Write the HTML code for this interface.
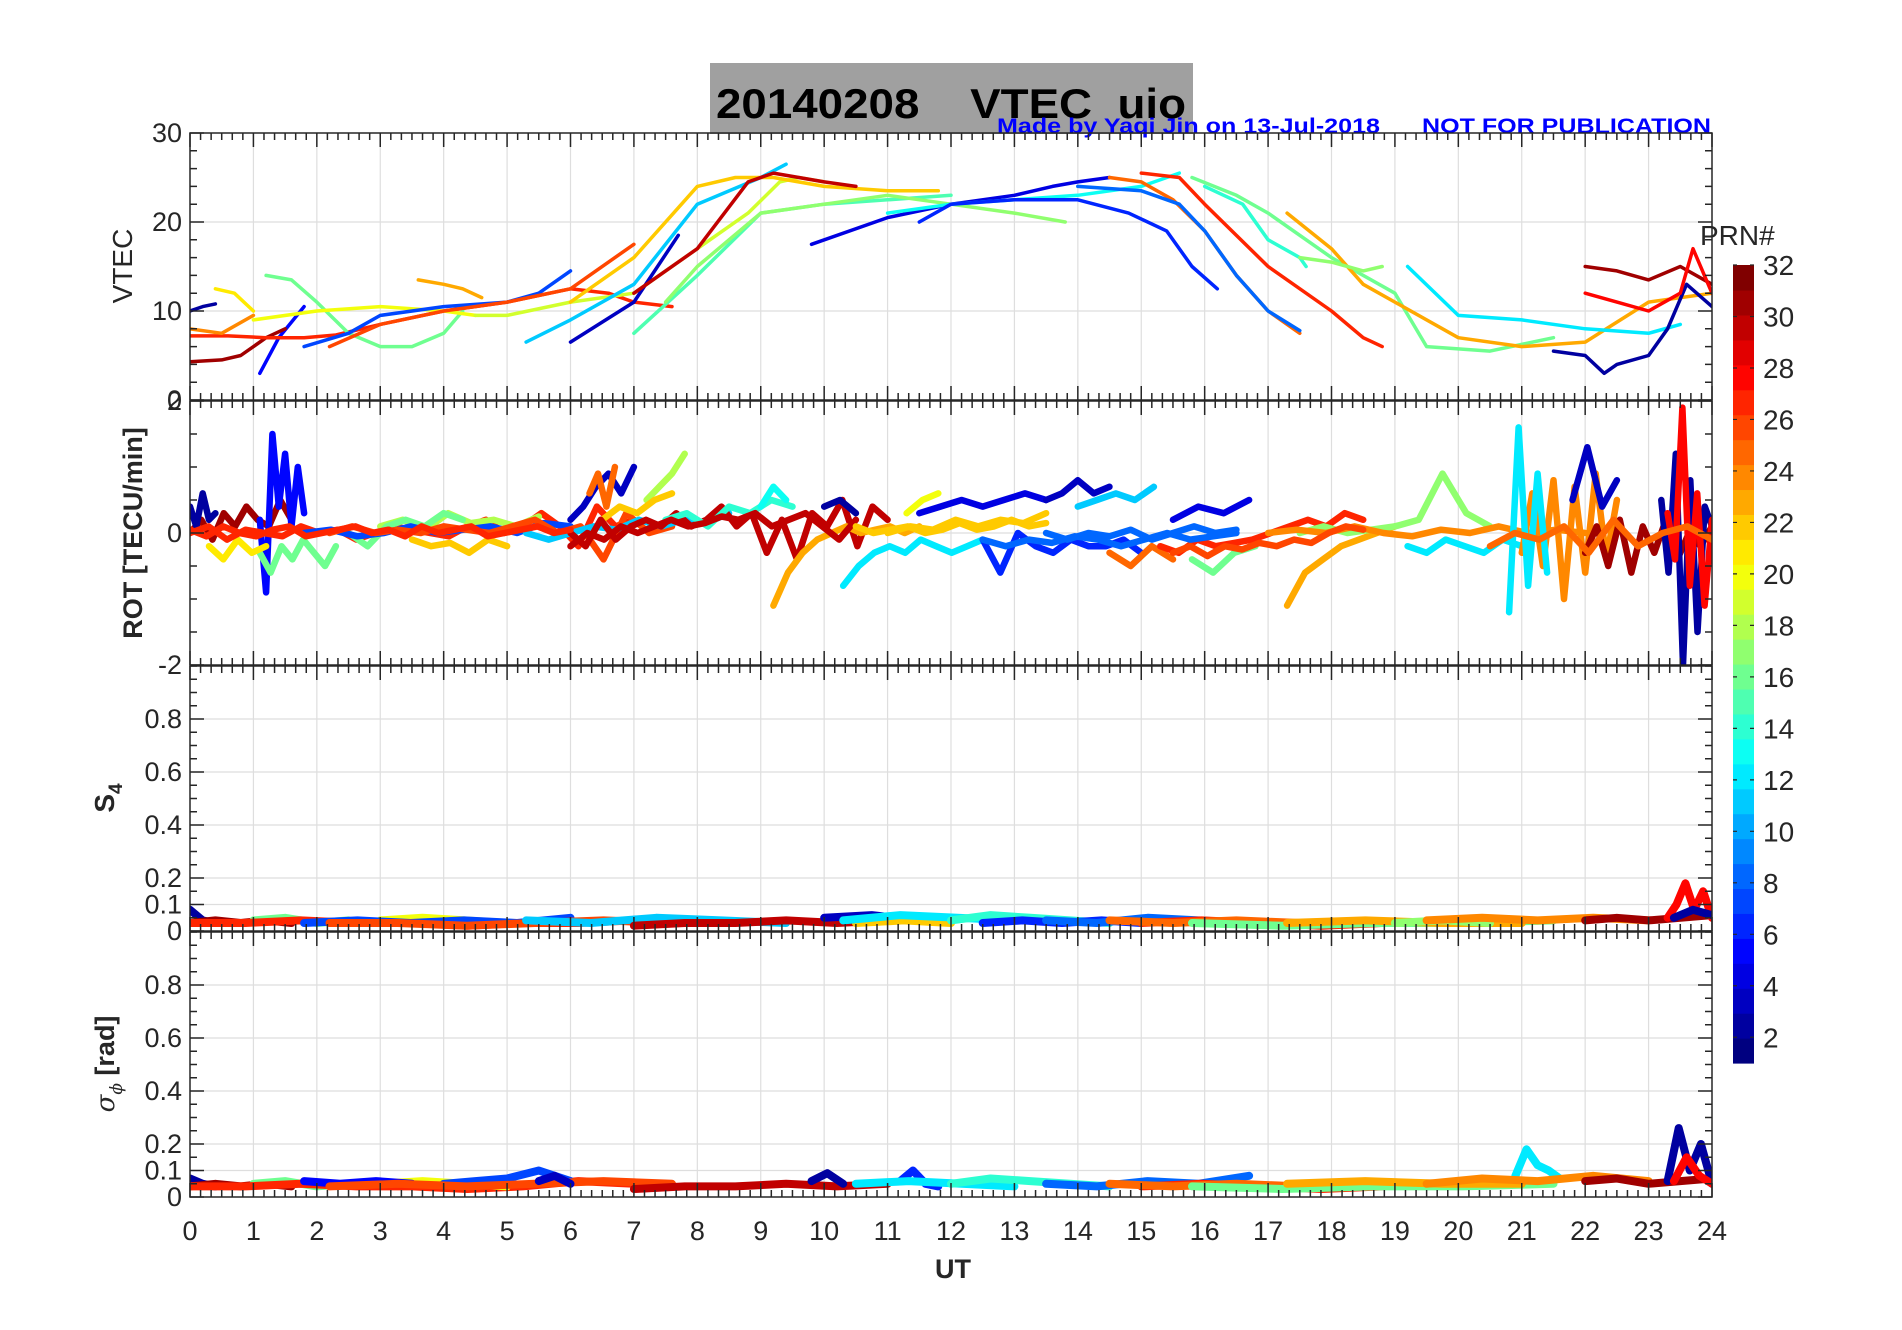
<!DOCTYPE html>
<html><head><meta charset="utf-8">
<style>
html,body{margin:0;padding:0;background:#fff;}
svg{display:block;font-family:"Liberation Sans",sans-serif;}
</style></head>
<body>
<svg id="fig" width="1902" height="1330" viewBox="0 0 1902 1330" xmlns="http://www.w3.org/2000/svg">
<rect x="0" y="0" width="1902" height="1330" fill="#fff"/>
<rect x="710" y="63" width="483" height="71" fill="#a0a0a0"/>
<text x="716" y="118" font-size="42" font-weight="bold" fill="#000" textLength="470" lengthAdjust="spacingAndGlyphs" xml:space="preserve">20140208    VTEC  uio</text>
<text x="997" y="133" font-size="21" font-weight="bold" fill="#0000ff" textLength="383" lengthAdjust="spacingAndGlyphs">Made by Yaqi Jin on 13-Jul-2018</text>
<text x="1422" y="133" font-size="21" font-weight="bold" fill="#0000ff" textLength="289" lengthAdjust="spacingAndGlyphs">NOT FOR PUBLICATION</text>
<g id="grids"></g>
<g id="marks"></g>
<g id="axes"></g>
<g id="cbar"></g>
</svg>
<script>
// ---------- DATA ----------
const vtecPrn = [2,5,31,27,24,21,16,20,7,26,23,19,11,3,22,30,15,17,4,13,6,27,25,16,14,23,8,17,12,2,31,28];
const vtecT = [
 [0,0.2,0.4],
 [1.1,1.4,1.8],
 [0,0.5,0.8,1.2,1.5],
 [0,0.6,1.2,1.8,2.3,3,4,5,6,6.6,7,7.6],
 [0,0.5,1],
 [0.4,0.7,1],
 [1.2,1.6,2,2.5,3,3.5,4,4.3],
 [1,2,3,4,4.5],
 [1.8,2.5,3,4,5,5.5,6],
 [2.2,3,4,5,6,6.3,7],
 [3.6,4,4.3,4.6],
 [4.5,5,6,7,8,8.8,9.3,9.6,10],
 [5.3,6,7,8,9,9.4],
 [6,7,7.7],
 [6,7,8,8.6,9.2,10,11,11.8],
 [7,8,8.8,9.2,9.6,10,10.5],
 [7,8,9,10,11,12],
 [7.5,8,9,10,11,12,13,13.8],
 [9.8,11,12,13,13.6,14,14.5],
 [11,12,13,14,15,15.6],
 [11.5,12,13,14,14.8,15.4,15.8,16.2],
 [15,15.6,16,17,18,18.5,18.8],
 [14.5,15,15.5,16,16.5,17,17.5],
 [15.8,16.5,17,18,19,19.5,20.5,21.5],
 [16,16.6,17,17.5,17.6],
 [17.3,18,18.5,19,20,21,22,23,24],
 [14,15,15.6,16,16.5,17,17.5],
 [17.5,18,18.5,18.8],
 [19.2,20,21,22,23,23.5],
 [21.5,22,22.3,22.5,23,23.3,23.6,24],
 [22,22.5,23,23.5,24],
 [22,22.5,23,23.5,23.7,24]
];
const vtecV = [
 [10,10.5,10.8],
 [3,7,10.5],
 [4.3,4.5,5,7,8],
 [7.2,7.2,7,7,7.3,8.5,10,11,12.5,12,11,10.5],
 [8,7.5,9.5],
 [12.5,12,10],
 [14,13.5,11,7.5,6,6,7.5,10],
 [9,10,10.5,10,9.5],
 [6,7.5,9.5,10.5,11,12,14.5],
 [6,8.5,10,11,12.5,14,17.5],
 [13.5,13,12.5,11.5],
 [9.5,9.5,11,12,17,21,24.5,25,24.5],
 [6.5,9,13,22,25,26.5],
 [6.5,11,18.5],
 [11,16,24,25,25,24,23.5,23.5],
 [12,17,24.5,25.5,25,24.5,24],
 [7.5,14,21,22,22.5,23],
 [11,15,21,22,23,22,21,20],
 [17.5,20.5,22,23,24,24.5,25],
 [21,22,22.5,23,24,25.5],
 [20,22,22.5,22.5,21,19,15,12.5],
 [25.5,25,22,15,10,7,6],
 [25,24.5,22.5,19,14,10,7.5],
 [25,23,21,16,12,6,5.5,7],
 [24,22,18,16,15],
 [21,17,13,11,7,6,6.5,11,12],
 [24,23.5,22,19,14,10,7.8],
 [16,15.5,14.5,15],
 [15,9.5,9,8,7.5,8.5],
 [5.5,5,3,4,5,8,13,10.5],
 [15,14.5,13.5,15,13],
 [12,11,10,12,17,12]
];

// ROT segments
const rotPrn = [31,2,5,16,21,27,18,16,22,7,26,3,25,18,22,11,30,14,13,23,12,2,20,4,3,11,22,6,8,4,25,27,16,23,17,12,24,24,12,3,31,2,28,25,27,30,22,8,26];
const rotT0 = [0,0,1.1,1.1,0.3,0,3,2.5,3.5,1.8,2.2,6,6.3,7.2,6.5,5.3,6,7.5,9,9.2,10.3,10,11.3,11.5,13.5,14,11,12.5,13.5,15.5,14.5,15.3,15.8,17.3,17.5,19.2,17,21,20.8,21.8,22,23.2,23.3,20.5,0,6,10.5,12.5,15.5];
const rotT1 = [1.6,0.4,1.8,2.3,1.2,7,5.5,4.3,5,6,7.6,7,6.7,7.8,7.6,8.5,11,9.5,9.4,11.5,12.5,10.5,11.8,13.5,14.5,15.2,13.5,15,16.5,16.7,15.5,18.5,16.8,19,20.5,21,22,22.5,21.4,22.5,24,24,24,24,6,10.5,13.5,16.5,18.5];
const rotV = [
 [0,0.2,-0.1,0.3,0.1,0.4,0.2,0.1,0.5,0.2],
 [0.4,0.1,0.6,0.2,0.3],
 [0.2,-0.9,1.5,0.4,1.2,0.1,1.0,0.3],
 [-0.3,-0.6,-0.2,-0.4,-0.1,-0.3,-0.5,-0.2],
 [-0.2,-0.4,-0.1,-0.3,-0.2],
 [0,0.1,-0.1,0.05,0,-0.05,0.1,0,0.05,-0.1,0,0.1,0.05,0,-0.05,0.1,0.2,0,0.1,0.3,0.1,-0.2,0.4,0.1,0.2],
 [0.1,0.2,0.05,0.3,0.15,0.2,0.1,0.25],
 [0,-0.2,0.1,0.2,0.1,0.3,0.2],
 [-0.1,-0.2,-0.15,-0.3,-0.1,-0.2],
 [0,0.05,-0.05,0,0.1,0,0.05,0.1,0,0.15,0.1],
 [0,0.1,0,0.05,0,0.1,0.05,0,0.1,0.2,0,0.1,-0.4,0.3,0,0.1],
 [0.2,0.4,0.7,0.9,0.6,1.0],
 [0.6,0.9,0.4,1.0],
 [0.5,0.7,0.9,1.2],
 [0.2,0.4,0.3,0.5,0.6],
 [0,-0.1,0,0.1,0.05,0.2,0.1,0.2,0.15,0.3],
 [0,-0.2,0.2,-0.1,0.1,0.2,0.1,0.3,0.1,0.2,0.4,0.1,0.3,-0.3,0.2,-0.4,0.3,0.1,0.5,-0.2,0.4,0.2],
 [0.2,0.3,0.1,0.4,0.3,0.5,0.4],
 [0.4,0.7,0.5],
 [-1.1,-0.6,-0.3,-0.1,0,0.1,0,0.05,0.1,0,0.1],
 [-0.8,-0.5,-0.3,-0.2,-0.3,-0.1,-0.2,-0.3,-0.2,-0.1],
 [0.4,0.5,0.3],
 [0.3,0.5,0.6],
 [0.3,0.4,0.5,0.4,0.5,0.6,0.5],
 [0.5,0.6,0.8,0.6,0.7],
 [0.4,0.5,0.6,0.5,0.7],
 [0,0.1,0.05,0.2,0.1,0.2,0.15,0.3],
 [-0.1,-0.6,0,-0.2,-0.3,-0.1,-0.2,-0.2,-0.1,-0.3],
 [0,-0.1,0,-0.05,0.05,-0.1,0,0.1,0,0.05],
 [0.2,0.4,0.3,0.5],
 [-0.3,-0.5,-0.2,-0.4],
 [-0.2,-0.3,-0.1,-0.2,-0.15,-0.1,0,0.1,0.2,0.1,0.3,0.2],
 [-0.4,-0.6,-0.3,-0.2],
 [-1.1,-0.6,-0.4,-0.2,-0.1,0,0.1],
 [0,0.1,0,0.05,0.1,0.2,0.9,0.3,0.1],
 [-0.2,-0.3,-0.1,-0.2,-0.3,-0.1,-0.2],
 [0,0.05,0,0.1,0,-0.05,0.05,0,0.1,0,0.05,0],
 [-0.3,0.6,-0.5,0.8,-1.0,0.7,-0.6,0.9,-0.4,0.5],
 [-1.2,1.6,-0.8,0.9,-0.6],
 [0.5,1.3,0.4,0.8],
 [-0.3,0.1,-0.5,0.2,-0.6,0.1,-0.3,0.2,-0.4,0,-0.2,0.1],
 [0.5,-0.6,1.2,-2,0.8,-1.5,0.4,0.1],
 [0.3,-0.4,1.9,-0.8,0.6,-1.1,0.2],
 [-0.2,0,-0.1,0.1,-0.3,0.2,-0.2,0,0.1,-0.1],
 [0.05,-0.05,0.1,0,-0.05,0.05,0.1,-0.05,0,0.05,0.1,0,0.05,-0.05,0.1,0,0.05,0.1,-0.05,0,0.05,0.1,0,0.05],
 [-0.2,0,-0.1,0.1,0,0.1,0.2,0.1,0.15,0.25,0.2,0.3,0.1,0.2,0.3,0.1,-0.1,0.2],
 [0.1,0,0.05,0.1,0,0.05,0.15,0.05,0.1,0.2,0.1,0.15],
 [-0.1,-0.2,-0.1,-0.15,-0.05,-0.1,-0.2,-0.1,0,-0.1,-0.05,0],
 [-0.3,-0.2,-0.35,-0.2,-0.25,-0.15,-0.2,-0.1,-0.15,0,0.1,0.05]
];

// S4 segments
const s4Prn = [2,31,16,27,20,7,26,11,30,3,22,12,14,6,8,27,25,16,23,17,24,31,28,2];
const s4T0 = [0,0,1,0,3,1.8,2.2,5.3,7,10,10.5,10.3,12,12.5,13.5,15,14.5,15.8,17.3,19,19.5,22,23.3,23.4];
const s4T1 = [0.4,1.6,2.5,7,5,6,7.6,9.4,11,11.5,12,13,14.5,15,16.7,18.8,17.5,21.5,21,20.5,23,24,24,24];
const s4V = [
 [0.08,0.04,0.03],
 [0.03,0.04,0.03,0.04,0.03],
 [0.04,0.05,0.03,0.04],
 [0.03,0.03,0.04,0.03,0.03,0.02,0.03,0.03,0.04],
 [0.04,0.05,0.04,0.03],
 [0.03,0.04,0.03,0.04,0.03,0.05],
 [0.03,0.03,0.02,0.03,0.04,0.03],
 [0.04,0.03,0.05,0.04,0.03],
 [0.02,0.03,0.03,0.04,0.03,0.04],
 [0.05,0.06,0.04],
 [0.03,0.04,0.03],
 [0.04,0.06,0.05,0.04],
 [0.04,0.06,0.05,0.04,0.03],
 [0.03,0.04,0.03,0.04,0.03],
 [0.04,0.03,0.05,0.04,0.03],
 [0.03,0.04,0.03,0.02,0.03],
 [0.04,0.03,0.04,0.03],
 [0.03,0.02,0.03,0.03,0.04],
 [0.03,0.04,0.03,0.03],
 [0.03,0.04,0.03],
 [0.04,0.05,0.04,0.05,0.04],
 [0.04,0.05,0.04,0.05,0.06],
 [0.05,0.1,0.18,0.08,0.15,0.05],
 [0.05,0.08,0.06]
];

// sigma-phi segments
const spPrn = [2,31,16,27,20,5,7,26,3,30,2,6,12,14,8,27,25,16,23,12,24,31,2,28];
const spT0 = [0,0,1,0,3,1.8,4,2.2,5.5,7,9.8,11.2,10.5,12,13.5,15,14.5,15.8,17.3,20.9,19.5,22,23.3,23.4];
const spT1 = [0.4,1.6,2.5,7,5,3.5,6,7.6,6,11,10.3,11.8,13,14.5,16.7,18.8,17.5,21.5,21,21.6,23,24,24,24];
const spV = [
 [0.07,0.05,0.04],
 [0.04,0.05,0.04,0.05,0.04],
 [0.05,0.06,0.04,0.05],
 [0.04,0.04,0.05,0.04,0.04,0.03,0.04,0.06,0.05],
 [0.05,0.06,0.05,0.04],
 [0.06,0.05,0.06,0.05],
 [0.05,0.06,0.07,0.1,0.06],
 [0.04,0.05,0.04,0.05,0.06,0.05],
 [0.06,0.08,0.05],
 [0.03,0.04,0.04,0.05,0.04,0.05],
 [0.06,0.09,0.05],
 [0.06,0.1,0.05,0.04],
 [0.05,0.06,0.05,0.04],
 [0.05,0.07,0.06,0.05,0.04],
 [0.05,0.04,0.06,0.05,0.08],
 [0.04,0.05,0.04,0.03,0.04],
 [0.05,0.04,0.05,0.04],
 [0.04,0.03,0.04,0.04,0.05],
 [0.05,0.06,0.05,0.05],
 [0.08,0.18,0.12,0.1,0.07],
 [0.05,0.07,0.06,0.08,0.06],
 [0.06,0.07,0.05,0.06,0.07],
 [0.06,0.26,0.1,0.2,0.05],
 [0.06,0.15,0.08,0.05]
];

const xTicks = ["0","1","2","3","4","5","6","7","8","9","10","11","12","13","14","15","16","17","18","19","20","21","22","23","24"];
const vtecTicks = [0,10,20,30];
const rotTicks = [-2,0,2];
const s4Ticks = [0,0.1,0.2,0.4,0.6,0.8];
const cbTicks = [2,4,6,8,10,12,14,16,18,20,22,24,26,28,30,32];

// ---------- LAYOUT ----------
const NS="http://www.w3.org/2000/svg";
const XL=190, XR=1712;
const panels = {
 vtec:{top:133,bot:400,min:0,max:30,minor:2},
 rot:{top:401,bot:665,min:-2,max:2,minor:0.5},
 s4:{top:666,bot:931,min:0,max:1,minor:0.05},
 sp:{top:932,bot:1197,min:0,max:1,minor:0.05}
};
function xs(t){return XL+(XR-XL)*t/24;}
function ys(p,v){return p.bot-(p.bot-p.top)*(v-p.min)/(p.max-p.min);}
function jet(prn){
 const t=(prn-1)/31;
 const c=x=>Math.round(255*Math.max(0,Math.min(1,1.5-Math.abs(x))));
 return `rgb(${c(4*t-3)},${c(4*t-2)},${c(4*t-1)})`;
}
function mk(tag,attrs,parent){const e=document.createElementNS(NS,tag);for(const k in attrs)e.setAttribute(k,attrs[k]);parent.appendChild(e);return e;}
const G=document.getElementById('grids'),M=document.getElementById('marks'),A=document.getElementById('axes'),CB=document.getElementById('cbar');

for(const key in panels){const p=panels[key];
 for(let h=1;h<24;h++){const l=mk('line',{x1:xs(h),x2:xs(h),y1:p.top,y2:p.bot,stroke:'#dedede','stroke-width':1.2},G);
  
  }
 const tk = key==='vtec'?vtecTicks:key==='rot'?rotTicks:s4Ticks;
 tk.forEach(v=>{if(v===p.min||v===p.max)return;const l=mk('line',{x1:XL,x2:XR,y1:ys(p,v),y2:ys(p,v),stroke:'#dedede','stroke-width':1.2},G);
  
  });
}
function clipId(key){return 'clip-'+key;}
const defs=mk('defs',{},document.getElementById('fig'));
for(const key in panels){const p=panels[key];const cp=mk('clipPath',{id:clipId(key)},defs);mk('rect',{x:XL,y:p.top,width:XR-XL,height:p.bot-p.top},cp);}

function drawLine(p,key,ts,vs,prn,w,name){
 const pts=ts.map((t,i)=>xs(t).toFixed(1)+','+ys(p,vs[i]).toFixed(1)).join(' ');
 const pl=mk('polyline',{points:pts,fill:'none',stroke:jet(prn),'stroke-width':w,'stroke-linejoin':'round','stroke-linecap':'round','clip-path':`url(#${clipId(key)})`},M);
 
 
}
vtecPrn.forEach((prn,i)=>drawLine(panels.vtec,'vtec',vtecT[i],vtecV[i],prn,3.5,'vtec-track-prn-'+prn));
function segs(P,T0,T1,V,key,w,label){
 P.forEach((prn,i)=>{const v=V[i];const n=v.length;const ts=v.map((_,j)=>T0[i]+(T1[i]-T0[i])*(n>1?j/(n-1):0));drawLine(panels[key],key,ts,v,prn,w,label+'-prn-'+prn);});
}
segs(rotPrn,rotT0,rotT1,rotV,'rot',6.5,'rot-trace');
segs(s4Prn,s4T0,s4T1,s4V,'s4',8,'s4-trace');
segs(spPrn,spT0,spT1,spV,'sp',8,'sigma-phi-trace');

function txt(x,y,s,attrs,name){const t=mk('text',Object.assign({x:x,y:y,fill:'#262626','font-size':27},attrs||{}),A);t.textContent=s;
 
 return t;}
for(const key in panels){const p=panels[key];
 const r=mk('rect',{x:XL,y:p.top,width:XR-XL,height:p.bot-p.top,fill:'none',stroke:'#262626','stroke-width':1.5},A);
 
 
 let d='';
 for(let k=0;k<=144;k++){const x=xs(k/6);const L=(k%6===0)?14:7;d+=`M${x},${p.bot}v${-L}M${x},${p.top}v${L}`;}
 const nm=Math.round((p.max-p.min)/p.minor);
 const tk = key==='vtec'?vtecTicks:key==='rot'?rotTicks:s4Ticks;
 for(let k=0;k<=nm;k++){const v=p.min+k*p.minor;const y=ys(p,v);const major=tk.some(q=>Math.abs(q-v)<1e-6);const L=major?14:7;d+=`M${XL},${y}h${L}M${XR},${y}h${-L}`;}
 const pt=mk('path',{d:d,stroke:'#262626','stroke-width':1.5,fill:'none'},A);
 
 
 tk.forEach(v=>txt(XL-8,ys(p,v)+9,String(v),{'text-anchor':'end'},key+'-y-tick-label'));
}
xTicks.forEach((s,i)=>txt(xs(i),1240,s,{'text-anchor':'middle'},'x-tick-label'));
txt(953,1278,'UT',{'text-anchor':'middle','font-weight':'bold'},'x-axis-title');
txt(0,0,'VTEC',{'text-anchor':'middle',transform:'translate(132,266) rotate(-90)','font-size':28},'vtec-y-axis-title');
txt(0,0,'ROT [TECU/min]',{'text-anchor':'middle',transform:'translate(142,533) rotate(-90)','font-weight':'bold','font-size':27},'rot-y-axis-title');
(function(){const t=txt(0,0,'S',{'text-anchor':'middle',transform:'translate(114,798) rotate(-90)','font-weight':'bold','font-size':28},'s4-y-axis-title');
 const s=document.createElementNS(NS,'tspan');s.setAttribute('font-size','19');s.setAttribute('dy','8');s.textContent='4';t.appendChild(s);})();
(function(){const t=txt(0,0,'σ',{'text-anchor':'middle',transform:'translate(114,1064) rotate(-90)','font-size':26,'font-family':'DejaVu Serif, serif','font-style':'italic'},'sigma-phi-y-axis-title');
 const s=document.createElementNS(NS,'tspan');s.setAttribute('font-size','17');s.setAttribute('dy','8');s.textContent='ϕ';t.appendChild(s);
 const s2=document.createElementNS(NS,'tspan');s2.setAttribute('dy','-8');s2.setAttribute('font-family','Liberation Sans, sans-serif');s2.setAttribute('font-style','normal');s2.setAttribute('font-weight','bold');s2.setAttribute('font-size','27');s2.textContent=' [rad]';t.appendChild(s2);})();

const CBX=1733,CBW=21,CBT=265,CBB=1063;
for(let k=0;k<32;k++){const y0=CBB-(CBB-CBT)*(k+1)/32,h=(CBB-CBT)/32;
 const r=mk('rect',{x:CBX,y:y0,width:CBW,height:h+0.6,fill:jet(k+1)},CB);
 
 }
function cbY(v){return CBB-(CBB-CBT)*(v-1)/31;}
let cd='';
cbTicks.forEach(v=>{const y=cbY(v);cd+=`M${CBX},${y}h4M${CBX+CBW},${y}h-4`;
 const t=mk('text',{x:CBX+CBW+9,y:y+10,'font-size':28,fill:'#262626'},CB);t.textContent=v;
 
 });
const cp2=mk('path',{d:cd,stroke:'#262626','stroke-width':1.2},CB);


const ct=mk('text',{x:1700,y:245,'font-size':28,fill:'#262626'},CB);ct.textContent='PRN#';


</script>
</body></html>
